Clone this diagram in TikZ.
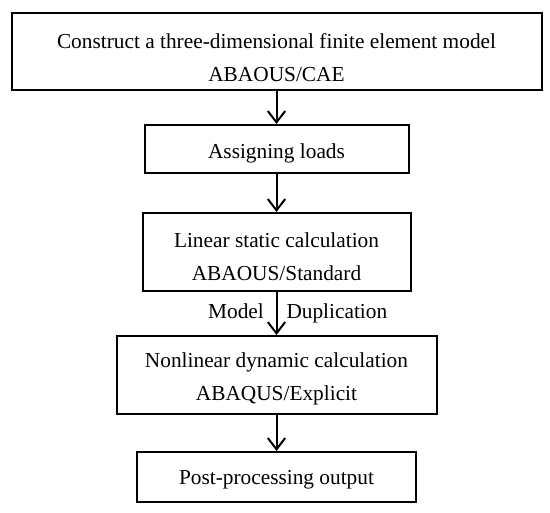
\documentclass[tikz,border=0pt]{standalone}
\usepackage{fontspec}
\setmainfont{Liberation Serif}
\usetikzlibrary{arrows.meta}

\tikzset{every picture/.style={line width=1.5pt}}
\tikzset{
  stagebox/.style={draw, line width=1.5pt, inner sep=0pt},
  stagetext/.style={align=center, inner sep=0.75pt, font=\fontsize{16}{24.75}\selectfont},
  arrowtext/.style={inner sep=0.75pt, text height=11pt, text depth=3.5pt, font=\fontsize{16}{24.75}\selectfont},
  flowarrow/.style={line width=1.5pt, -{Straight Barb[length=8.5pt,width=13pt]}},
}

\begin{document}
\begin{tikzpicture}[x=0.75pt,y=0.75pt,yscale=-1,xscale=1]
	\useasboundingbox (0,0) rectangle (550,512);
	
	% Boxes
	\node [stagebox, minimum width=397.5pt, minimum height=57.5pt] (fem) at (276.5,51.5) {};
	\node [stagebox, minimum width=198pt, minimum height=36pt] (loads) at (276.5,149) {};
	\node [stagebox, minimum width=201pt, minimum height=58.5pt] (linear) at (276.5,252) {};
	\node [stagebox, minimum width=240pt, minimum height=58.5pt] (nonlinear) at (276.5,375) {};
	\node [stagebox, minimum width=209.25pt, minimum height=37.5pt] (post) at (276.5,477) {};
	
	% Text Nodes
	\node [stagetext] (femtext) at (276.5,57.5) {Construct a three-dimensional finite element model\\ABAOUS/CAE};
	\node [stagetext] (loadstext) at (276.5,153) {Assigning loads};
	\node [stagetext] (lineartext) at (276.5,256.5) {Linear static calculation\\ABAOUS/Standard};
	\node [stagetext] (nonlineartext) at (276.5,379) {Nonlinear dynamic calculation\\ABAQUS/Explicit};
	\node [stagetext] (posttext) at (276.5,480) {Post-processing output};
	
	% Arrows
	\draw [flowarrow] (fem) -- (loads);
	\draw [flowarrow] (loads) -- (linear);
	\draw [flowarrow] (linear) -- (nonlinear)
		node [arrowtext, midway, left=8pt] (modellabel) {Model}
		node [arrowtext, midway, right=6pt] (duplabel) {Duplication};
	\draw [flowarrow] (nonlinear) -- (post);
	
\end{tikzpicture}
\end{document}
